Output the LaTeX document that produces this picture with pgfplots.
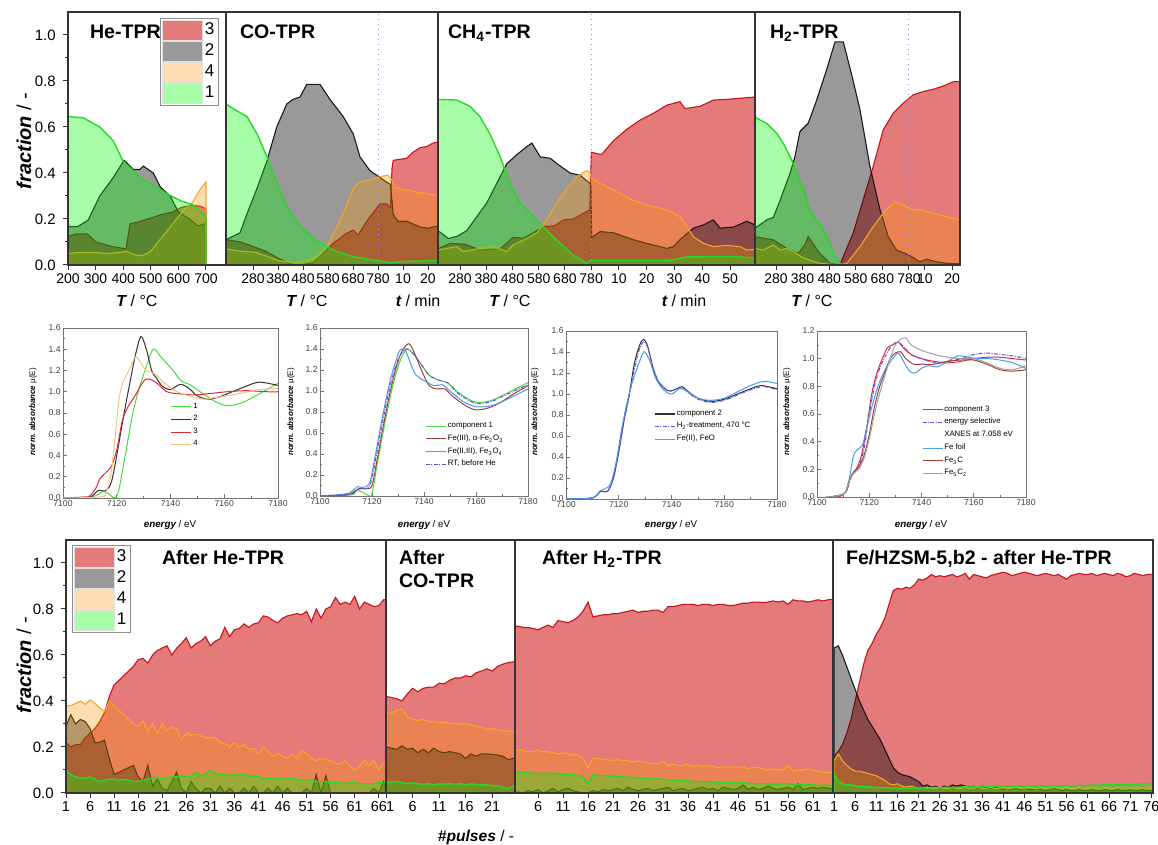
\documentclass[border=0pt]{standalone}
\usepackage{fontspec}
\setmainfont{Liberation Sans}
\usepackage{pgfplots}
\usepackage{pgfplotstable}
\pgfplotsset{compat=1.18}

% component colours: saturated base + own opacity (as the original overlaps suggest)
\definecolor{F3}{RGB}{205,0,0}\definecolor{L3}{RGB}{200,18,28}
\definecolor{F2}{RGB}{0,0,0}\definecolor{L2}{RGB}{25,25,25}
\definecolor{F4}{RGB}{250,150,0}\definecolor{L4}{RGB}{245,165,40}
\definecolor{F1}{RGB}{0,250,0}\definecolor{L1}{RGB}{40,215,40}
% XANES colours
\definecolor{xgreen}{RGB}{70,220,70}
\definecolor{xblack}{RGB}{50,50,50}
\definecolor{xred}{RGB}{225,40,60}
\definecolor{xorange}{RGB}{245,195,125}
\definecolor{xbrown}{RGB}{160,64,58}
\definecolor{xblue}{RGB}{74,155,232}
\definecolor{xviolet}{RGB}{100,80,210}
\definecolor{xgray}{RGB}{160,160,160}

\pgfplotsset{
  /pgf/number format/assume math mode=true,
  /pgf/number format/set thousands separator={},
  frac/.style={
    scale only axis, height=126.5pt, ymin=0, ymax=1.1,
    axis on top,
    axis line style={black!80, line width=0.6pt},
    tick style={black!80, line width=0.5pt},
    tick align=outside, major tick length=2.6pt, minor tick length=1.6pt,
    xtick pos=bottom, ytick pos=left,
    ticklabel style={font=\fontsize{7.5}{8}\selectfont},
    xticklabel style={inner sep=1.5pt, font=\fontsize{7}{8}\selectfont},
    ytick=\empty,
  },
  fracy/.style={
    ytick={0,0.2,0.4,0.6,0.8,1.0}, minor y tick num=1,
    yticklabel style={/pgf/number format/.cd,fixed,fixed zerofill,precision=1},
  },
  fraclegend/.style={
    legend style={at={#1}, anchor=north west, draw=black!45, fill=white,
      line width=0.4pt, font=\fontsize{8.5}{9}\selectfont,
      inner sep=1pt, row sep=0.6pt, nodes={inner sep=0.9pt}},
    legend image code/.code={\path[##1, draw=black!12, line width=0.3pt] (0pt,-4.8pt) rectangle (20pt,4.8pt);},
  },
  s3/.style={draw=L3, fill=F3, fill opacity=0.52, line width=0.55pt},
  s2/.style={draw=L2, fill=F2, fill opacity=0.40, line width=0.55pt},
  s4/.style={draw=L4, fill=F4, fill opacity=0.31, line width=0.55pt},
  s1/.style={draw=L1, fill=F1, fill opacity=0.34, line width=0.7pt},
  vline/.style={forget plot, blue!45, dotted, line width=0.5pt},
  xanes/.style={
    scale only axis, xmin=7100, xmax=7180, ymin=0, ymax=1.6,
    xtick={7100,7120,7140,7160,7180}, minor x tick num=1,
    ytick={0,0.2,...,1.6}, minor y tick num=1,
    axis line style={black!55, line width=0.4pt},
    tick style={black!55, line width=0.3pt},
    major tick length=1.8pt, minor tick length=1pt,
    xtick pos=bottom, ytick pos=left,
    ticklabel style={font=\fontsize{4.3}{5}\selectfont, text=black!75, inner sep=1pt},
    yticklabel style={/pgf/number format/.cd,fixed,fixed zerofill,precision=1},
    legend cell align=left,
    legend image code/.code={\draw[##1, line width=0.6pt] (0pt,0pt) -- (10pt,0pt);},
    every axis plot/.append style={line width=0.5pt, smooth, tension=0.5},
  },
  xleg/.style={legend style={at={#1}, anchor=north west, draw=none, fill=none,
      font=\fontsize{3.9}{4.4}\selectfont, inner sep=0pt, row sep=0.9pt,
      nodes={inner sep=0.6pt}}},
  dd/.style={dash pattern=on 2pt off 0.7pt on 0.5pt off 0.7pt},
}

% ---------- pulse data (after the TPRs) ----------
\pgfplotstableread{
p c3 c2 c4 c1
1 0.22 0.29 0.38 0.10
2 0.20 0.34 0.38 0.08
3 0.21 0.30 0.39 0.07
4 0.21 0.32 0.40 0.065
5 0.24 0.31 0.385 0.065
6 0.26 0.28 0.405 0.07
7 0.28 0.22 0.39 0.06
8 0.31 0.22 0.37 0.05
9 0.35 0.23 0.355 0.055
10 0.42 0.15 0.40 0.06
11 0.47 0.08 0.38 0.06
12 0.49 0.09 0.36 0.055
13 0.51 0.10 0.34 0.06
14 0.53 0.11 0.32 0.055
15 0.55 0.12 0.30 0.05
16 0.58 0.07 0.29 0.05
17 0.585 0.05 0.315 0.055
18 0.565 0.12 0.27 0.06
19 0.60 0.03 0.30 0.065
20 0.62 0.06 0.26 0.07
21 0.63 0.02 0.30 0.06
22 0.64 0.01 0.27 0.065
23 0.60 0.05 0.285 0.07
24 0.63 0.09 0.28 0.07
25 0.65 0.02 0.23 0.075
26 0.675 0.0 0.26 0.07
27 0.63 0.05 0.25 0.07
28 0.65 0.02 0.255 0.09
29 0.66 0.0 0.25 0.075
30 0.68 0.02 0.24 0.08
31 0.64 0.02 0.24 0.10
32 0.66 0.0 0.24 0.085
33 0.67 0.03 0.22 0.08
34 0.72 0.0 0.215 0.08
35 0.68 0.02 0.20 0.075
36 0.71 0.0 0.22 0.08
37 0.715 0.0 0.20 0.075
38 0.735 0.02 0.21 0.085
39 0.72 0.0 0.19 0.07
40 0.735 0.03 0.195 0.075
41 0.74 0.0 0.17 0.07
42 0.77 0.0 0.20 0.065
43 0.765 0.02 0.18 0.065
44 0.75 0.0 0.16 0.06
45 0.74 0.03 0.175 0.065
46 0.76 0.0 0.16 0.06
47 0.77 0.02 0.15 0.06
48 0.775 0.0 0.17 0.065
49 0.78 0.0 0.15 0.06
50 0.775 0.0 0.185 0.055
51 0.79 0.02 0.17 0.06
52 0.745 0.0 0.15 0.055
53 0.80 0.08 0.14 0.05
54 0.76 0.0 0.15 0.05
55 0.80 0.075 0.145 0.05
56 0.81 0.0 0.14 0.045
57 0.85 0.0 0.13 0.045
58 0.82 0.0 0.125 0.045
59 0.83 0.0 0.14 0.04
60 0.82 0.0 0.12 0.045
61 0.855 0.0 0.10 0.045
62 0.80 0.0 0.115 0.04
63 0.83 0.0 0.145 0.04
64 0.82 0.0 0.12 0.04
65 0.81 0.02 0.14 0.04
66 0.815 0.0 0.10 0.045
67 0.84 0.05 0.13 0.045
68 0.84 0.0 0.12 0.05
}\tabBa

\pgfplotstableread{
p c3 c2 c4 c1
1 0.42 0.20 0.35 0.045
2 0.415 0.195 0.345 0.048
3 0.41 0.19 0.36 0.05
4 0.40 0.205 0.365 0.045
5 0.43 0.19 0.33 0.04
6 0.455 0.195 0.32 0.045
7 0.44 0.175 0.315 0.04
8 0.455 0.19 0.32 0.038
9 0.46 0.175 0.31 0.04
10 0.46 0.195 0.31 0.035
11 0.477 0.18 0.305 0.04
12 0.475 0.175 0.31 0.038
13 0.49 0.18 0.30 0.04
14 0.50 0.175 0.305 0.038
15 0.50 0.17 0.30 0.04
16 0.51 0.15 0.30 0.035
17 0.505 0.17 0.295 0.04
18 0.523 0.16 0.29 0.037
19 0.53 0.17 0.285 0.035
20 0.54 0.17 0.275 0.035
21 0.53 0.168 0.28 0.033
22 0.55 0.165 0.275 0.03
23 0.56 0.16 0.27 0.025
24 0.567 0.145 0.27 0.02
25 0.57 0.15 0.265 0.03
26 0.575 0.15 0.265 0.03
}\tabBb

\pgfplotstableread{
p c3 c2 c4 c1
1 0.725 0.0 0.19 0.085
2 0.725 0.005 0.185 0.09
3 0.72 0.0 0.185 0.09
4 0.72 0.01 0.18 0.088
5 0.715 0.005 0.18 0.085
6 0.71 0.015 0.185 0.085
7 0.72 0.0 0.18 0.085
8 0.73 0.01 0.18 0.085
9 0.72 0.02 0.175 0.085
10 0.75 0.005 0.17 0.083
11 0.745 0.015 0.175 0.08
12 0.74 0.02 0.17 0.082
13 0.75 0.01 0.165 0.08
14 0.765 0.005 0.165 0.075
15 0.79 0.0 0.15 0.07
16 0.83 0.0 0.11 0.04
17 0.765 0.01 0.15 0.08
18 0.77 0.005 0.15 0.075
19 0.775 0.015 0.145 0.075
20 0.775 0.01 0.145 0.075
21 0.78 0.015 0.14 0.073
22 0.78 0.02 0.145 0.07
23 0.785 0.01 0.14 0.07
24 0.79 0.025 0.14 0.068
25 0.795 0.015 0.135 0.068
26 0.785 0.01 0.14 0.065
27 0.79 0.015 0.135 0.063
28 0.79 0.02 0.13 0.063
29 0.795 0.01 0.13 0.06
30 0.795 0.015 0.125 0.06
31 0.785 0.02 0.14 0.06
32 0.81 0.025 0.12 0.058
33 0.81 0.01 0.125 0.055
34 0.815 0.015 0.12 0.055
35 0.82 0.02 0.12 0.055
36 0.82 0.01 0.125 0.053
37 0.82 0.015 0.115 0.05
38 0.815 0.02 0.12 0.05
39 0.82 0.025 0.115 0.05
40 0.82 0.015 0.12 0.05
41 0.815 0.02 0.115 0.048
42 0.82 0.01 0.11 0.045
43 0.82 0.025 0.115 0.045
44 0.815 0.02 0.11 0.045
45 0.815 0.015 0.115 0.045
46 0.82 0.02 0.11 0.043
47 0.825 0.035 0.115 0.045
48 0.825 0.015 0.105 0.042
49 0.83 0.025 0.11 0.04
50 0.83 0.015 0.11 0.04
51 0.828 0.02 0.105 0.04
52 0.83 0.03 0.10 0.04
53 0.835 0.02 0.105 0.038
54 0.83 0.015 0.10 0.038
55 0.835 0.02 0.10 0.04
56 0.82 0.025 0.12 0.04
57 0.84 0.015 0.095 0.038
58 0.835 0.04 0.10 0.036
59 0.835 0.015 0.10 0.035
60 0.83 0.02 0.105 0.035
61 0.835 0.025 0.10 0.035
62 0.84 0.02 0.095 0.033
63 0.835 0.025 0.09 0.033
64 0.84 0.02 0.09 0.033
65 0.842 0.02 0.085 0.03
}\tabBc

\pgfplotstableread{
p c3 c2 c4 c1
1 0.16 0.63 0.14 0.085
2 0.18 0.64 0.17 0.05
3 0.21 0.60 0.14 0.04
4 0.26 0.55 0.12 0.035
5 0.32 0.50 0.105 0.035
6 0.40 0.45 0.095 0.03
7 0.48 0.40 0.095 0.03
8 0.56 0.36 0.09 0.028
9 0.62 0.32 0.085 0.028
10 0.65 0.29 0.08 0.025
11 0.69 0.26 0.075 0.025
12 0.72 0.23 0.065 0.025
13 0.76 0.19 0.055 0.022
14 0.82 0.15 0.04 0.022
15 0.88 0.11 0.035 0.02
16 0.89 0.09 0.04 0.022
17 0.885 0.08 0.03 0.02
18 0.895 0.075 0.025 0.022
19 0.89 0.07 0.03 0.02
20 0.905 0.06 0.025 0.022
21 0.93 0.05 0.02 0.02
22 0.925 0.03 0.02 0.022
23 0.935 0.035 0.025 0.02
24 0.95 0.025 0.02 0.022
25 0.94 0.03 0.02 0.025
26 0.945 0.02 0.025 0.022
27 0.94 0.03 0.02 0.025
28 0.945 0.025 0.02 0.025
29 0.95 0.035 0.025 0.022
30 0.94 0.03 0.02 0.025
31 0.945 0.035 0.02 0.025
32 0.955 0.03 0.025 0.028
33 0.93 0.025 0.02 0.025
34 0.95 0.03 0.02 0.028
35 0.945 0.02 0.025 0.025
36 0.94 0.03 0.02 0.028
37 0.935 0.025 0.02 0.028
38 0.945 0.02 0.025 0.03
39 0.95 0.025 0.02 0.028
40 0.955 0.02 0.02 0.03
41 0.96 0.015 0.025 0.03
42 0.955 0.02 0.02 0.032
43 0.945 0.015 0.02 0.03
44 0.95 0.02 0.025 0.03
45 0.955 0.015 0.02 0.032
46 0.96 0.02 0.02 0.03
47 0.955 0.015 0.025 0.032
48 0.95 0.015 0.02 0.03
49 0.945 0.02 0.02 0.032
50 0.95 0.015 0.025 0.03
51 0.955 0.01 0.02 0.03
52 0.95 0.015 0.02 0.032
53 0.945 0.02 0.025 0.03
54 0.95 0.015 0.02 0.032
55 0.94 0.01 0.02 0.03
56 0.93 0.015 0.025 0.032
57 0.945 0.01 0.02 0.03
58 0.95 0.01 0.02 0.032
59 0.955 0.015 0.025 0.033
60 0.95 0.01 0.02 0.032
61 0.95 0.01 0.02 0.033
62 0.955 0.015 0.025 0.035
63 0.945 0.01 0.02 0.033
64 0.95 0.01 0.02 0.035
65 0.955 0.015 0.025 0.035
66 0.95 0.01 0.02 0.035
67 0.945 0.01 0.02 0.036
68 0.955 0.015 0.025 0.035
69 0.95 0.01 0.02 0.036
70 0.94 0.01 0.025 0.038
71 0.945 0.015 0.02 0.036
72 0.955 0.01 0.02 0.038
73 0.95 0.01 0.025 0.038
74 0.945 0.015 0.02 0.04
75 0.95 0.01 0.02 0.04
76 0.95 0.01 0.025 0.042
77 0.95 0.01 0.025 0.042
}\tabBd

\newcommand{\ttl}{\bfseries\fontsize{9.8}{11}\selectfont}
\newcommand{\lbl}{\fontsize{8}{9}\selectfont}

\begin{document}
\begin{tikzpicture}
\useasboundingbox (0,0) rectangle (579pt,422.5pt);

% ================= TOP ROW: TPR =================
% He-TPR
\begin{axis}[frac, fracy, at={(34pt,290pt)}, anchor=south west, width=79pt,
  xmin=200, xmax=772.5, xtick={200,300,400,500,600,700},
  fraclegend={(0.582,0.976)}]
\addplot[s3] coordinates {(200,0.125)(230,0.135)(270,0.135)(300,0.10)(330,0.09)(360,0.08)(410,0.07)(425,0.18)(450,0.185)(490,0.20)(540,0.22)(580,0.23)(610,0.25)(650,0.26)(680,0.255)(700,0.245)} \closedcycle;
\addplot[s2] coordinates {(200,0.20)(203,0.167)(235,0.167)(273,0.195)(315,0.30)(364,0.38)(403,0.455)(437,0.415)(460,0.415)(473,0.43)(509,0.40)(534,0.34)(570,0.30)(600,0.23)(640,0.20)(670,0.17)(700,0.18)} \closedcycle;
\addplot[s4] coordinates {(200,0.05)(240,0.055)(290,0.055)(340,0.05)(390,0.055)(410,0.06)(440,0.045)(470,0.04)(500,0.06)(520,0.09)(560,0.15)(594,0.20)(620,0.24)(650,0.27)(680,0.33)(700,0.36)} \closedcycle;
\addplot[s1] coordinates {(200,0.70)(202,0.645)(255,0.64)(315,0.60)(364,0.54)(400,0.45)(437,0.41)(473,0.37)(522,0.34)(558,0.31)(607,0.28)(655,0.26)(700,0.21)} \closedcycle;
\legend{3,2,4,1}
\end{axis}

% CO-TPR  (x: T in degC up to 780, then 780 + 10*t/min)
\begin{axis}[frac, at={(113pt,290pt)}, anchor=south west, width=106pt,
  xmin=172, xmax=1020, xtick={280,380,480,580,680,780,880,980},
  xticklabels={280,380,480,580,680,780,10,20}]
\addplot[s3] coordinates {(172,0.11)(228,0.10)(270,0.085)(330,0.06)(380,0.03)(428,0.005)(468,0.0)(520,0.01)(548,0.036)(601,0.094)(655,0.138)(681,0.152)(701,0.13)(721,0.167)(748,0.21)(788,0.265)(815,0.265)(830,0.25)(836,0.42)(841,0.455)(895,0.464)(920,0.49)(948,0.51)(975,0.515)(1000,0.53)(1020,0.535)} \closedcycle;
\addplot[s2] coordinates {(172,0.11)(228,0.14)(255,0.22)(295,0.33)(335,0.45)(375,0.60)(415,0.70)(440,0.72)(468,0.73)(495,0.785)(548,0.785)(588,0.72)(641,0.645)(681,0.57)(708,0.47)(748,0.41)(788,0.38)(815,0.36)(830,0.35)(841,0.22)(860,0.19)(895,0.19)(948,0.165)(980,0.16)(1020,0.17)} \closedcycle;
\addplot[s4] coordinates {(172,0.07)(228,0.06)(290,0.055)(330,0.04)(380,0.02)(440,0.01)(500,0.02)(540,0.04)(570,0.07)(600,0.13)(640,0.22)(680,0.33)(705,0.36)(750,0.37)(790,0.385)(820,0.39)(836,0.37)(845,0.34)(875,0.33)(920,0.32)(975,0.31)(1020,0.30)} \closedcycle;
\addplot[s1] coordinates {(172,0.70)(200,0.68)(256,0.645)(296,0.57)(336,0.47)(376,0.355)(416,0.25)(468,0.167)(532,0.11)(600,0.065)(680,0.036)(772,0.02)(828,0.01)(880,0.015)(1020,0.02)} \closedcycle;
\addplot[vline] coordinates {(780,0) (780,1.1)};
\end{axis}

% CH4-TPR  (x: T, then 780 + 10.6*t/min)
\begin{axis}[frac, at={(219pt,290pt)}, anchor=south west, width=158.5pt,
  xmin=196, xmax=1405, xtick={280,380,480,580,680,780,886,992,1098,1204,1310},
  xticklabels={280,380,480,580,680,780,10,20,30,40,50}]
\addplot[s3] coordinates {(196,0.07)(242,0.094)(300,0.09)(356,0.065)(433,0.07)(483,0.12)(522,0.116)(560,0.14)(598,0.167)(640,0.17)(675,0.196)(712,0.20)(751,0.225)(775,0.24)(781,0.49)(820,0.48)(865,0.54)(916,0.59)(967,0.63)(1018,0.66)(1069,0.695)(1119,0.71)(1138,0.68)(1196,0.69)(1246,0.717)(1297,0.72)(1348,0.725)(1405,0.73)} \closedcycle;
\addplot[s2] coordinates {(196,0.15)(235,0.115)(270,0.125)(306,0.15)(344,0.21)(382,0.27)(420,0.355)(458,0.44)(497,0.48)(535,0.515)(554,0.53)(586,0.47)(624,0.464)(662,0.43)(700,0.40)(738,0.39)(770,0.36)(779,0.35)(782,0.12)(814,0.145)(865,0.14)(941,0.11)(992,0.094)(1069,0.072)(1094,0.08)(1119,0.11)(1170,0.16)(1208,0.174)(1246,0.196)(1272,0.16)(1323,0.165)(1374,0.19)(1405,0.174)} \closedcycle;
\addplot[s4] coordinates {(196,0.065)(267,0.08)(293,0.058)(356,0.072)(407,0.08)(458,0.058)(483,0.087)(535,0.116)(573,0.14)(611,0.196)(649,0.27)(687,0.33)(725,0.384)(763,0.41)(776,0.40)(781,0.377)(814,0.355)(865,0.326)(941,0.28)(992,0.26)(1069,0.24)(1119,0.21)(1145,0.167)(1170,0.123)(1208,0.094)(1246,0.08)(1297,0.085)(1348,0.08)(1374,0.065)(1405,0.068)} \closedcycle;
\addplot[s1] coordinates {(196,0.72)(267,0.717)(318,0.69)(356,0.645)(394,0.57)(433,0.47)(471,0.355)(509,0.27)(560,0.21)(611,0.15)(662,0.094)(712,0.043)(763,0.007)(779,0.02)(900,0.02)(1081,0.02)(1145,0.035)(1323,0.037)(1405,0.03)} \closedcycle;
\addplot[vline] coordinates {(780,0) (780,1.1)};
\end{axis}

% H2-TPR
\begin{axis}[frac, at={(377.5pt,290pt)}, anchor=south west, width=102.5pt,
  xmin=201, xmax=972, xtick={280,380,480,580,680,780,840,942},
  xticklabels={280,380,480,580,680,780,10,20}]
\addplot[s3] coordinates {(201,0.123)(270,0.109)(320,0.072)(364,0.05)(390,0.09)(401,0.123)(445,0.05)(483,0.007)(520,0.0)(570,0.138)(608,0.283)(646,0.43)(683,0.587)(721,0.66)(758,0.703)(796,0.74)(834,0.754)(871,0.764)(909,0.778)(947,0.797)(972,0.797)} \closedcycle;
\addplot[s2] coordinates {(201,0.16)(245,0.196)(270,0.207)(295,0.28)(333,0.40)(351,0.47)(370,0.58)(401,0.616)(433,0.717)(470,0.848)(502,0.97)(533,0.97)(564,0.83)(596,0.674)(633,0.43)(671,0.24)(702,0.123)(733,0.065)(771,0.048)(790,0.036)(821,0.014)(846,0.025)(884,0.014)(921,0.007)(972,0.005)} \closedcycle;
\addplot[s4] coordinates {(201,0.072)(232,0.065)(270,0.087)(295,0.065)(320,0.072)(345,0.058)(383,0.03)(445,0.007)(520,0.0)(546,0.007)(596,0.08)(646,0.167)(683,0.225)(727,0.275)(758,0.26)(796,0.24)(821,0.24)(871,0.225)(921,0.21)(972,0.196)} \closedcycle;
\addplot[s1] coordinates {(201,0.667)(204,0.64)(245,0.616)(283,0.572)(307,0.53)(339,0.457)(364,0.384)(389,0.31)(408,0.239)(433,0.196)(458,0.152)(477,0.109)(495,0.05)(521,0.007)(533,0.0)(972,0.0)} \closedcycle;
\addplot[vline] coordinates {(780,0) (780,1.1)};
\end{axis}

\node[anchor=base west, font=\ttl] at (41.5pt,403pt) {He-TPR};
\node[anchor=base west, font=\ttl] at (116.5pt,403pt) {CO-TPR};
\node[anchor=base west, font=\ttl] at (220.5pt,403pt) {CH\textsubscript{4}-TPR};
\node[anchor=base west, font=\ttl] at (381.5pt,403pt) {H\textsubscript{2}-TPR};
\node[rotate=90, font=\fontsize{10}{11}\selectfont] at (12pt,352pt) {{\bfseries\itshape fraction} / -};
\foreach \xx/\tt in {68.5/T, 153.5/T, 255/T, 406/T}
  \node[anchor=base, font=\lbl] at (\xx pt,269pt) {{\bfseries\itshape \tt} / °C};
\foreach \xx in {209, 342}
  \node[anchor=base, font=\lbl] at (\xx pt,269pt) {{\bfseries\itshape t} / min};

% ================= MIDDLE ROW: XANES =================
\begin{axis}[xanes, at={(31.5pt,173.5pt)}, anchor=south west, width=107.5pt, height=85pt,
  xleg={(0.50,0.57)}]
\addplot[xgreen] coordinates {(7100,0)(7108,0.0)(7112,0.02)(7115,0.06)(7117,0.04)(7119,0.0)(7120,0.02)(7121,0.1)(7123.5,0.45)(7126,0.8)(7128,1.0)(7130.5,1.2)(7133.5,1.4)(7136,1.34)(7138.5,1.27)(7141,1.2)(7144,1.1)(7147,1.07)(7151,1.0)(7154,0.95)(7158,0.89)(7162,0.87)(7167,0.9)(7173,0.98)(7180,1.08)};
\addplot[xblack] coordinates {(7100,0)(7108,0.0)(7111,0.02)(7113,0.07)(7116,0.07)(7118,0.15)(7120,0.4)(7122.4,0.75)(7125,1.1)(7127,1.35)(7129,1.52)(7131,1.4)(7133,1.2)(7135,1.12)(7137,1.05)(7140,1.02)(7142,1.05)(7144,1.07)(7147,1.03)(7150,0.96)(7154,0.93)(7158,0.95)(7163,1.0)(7168,1.05)(7173,1.09)(7180,1.06)};
\addplot[xred] coordinates {(7100,0)(7108,0.01)(7110,0.02)(7112.4,0.1)(7113.7,0.18)(7116,0.24)(7118,0.3)(7120,0.45)(7122,0.72)(7124,0.85)(7127,0.97)(7130,1.1)(7132,1.12)(7135,1.08)(7138.6,1.0)(7143.5,0.98)(7148.5,0.97)(7153.5,0.98)(7161,1.0)(7168,1.01)(7176,1.0)(7180,1.0)};
\addplot[xorange] coordinates {(7100,0)(7114,0.01)(7116,0.05)(7118,0.25)(7119.5,0.6)(7121,0.95)(7122.5,1.1)(7124.5,1.2)(7127,1.33)(7129,1.27)(7131,1.2)(7134,1.17)(7137,1.1)(7141,1.02)(7144.5,0.98)(7148.5,0.95)(7152,0.93)(7158,0.95)(7165,0.98)(7173,1.02)(7180,1.03)};
\legend{1,2,3,4}
\end{axis}

\begin{axis}[xanes, at={(160pt,174.5pt)}, anchor=south west, width=104pt, height=84pt,
  xleg={(0.505,0.45)}]
\addplot[xgreen] coordinates {(7100,0)(7112,0.01)(7114,0.05)(7116,0.04)(7119,0.0)(7120,0.02)(7122,0.3)(7125,0.7)(7128,1.05)(7131,1.3)(7133.5,1.4)(7136,1.35)(7139,1.25)(7142,1.15)(7146,1.1)(7149,1.08)(7153,0.99)(7158,0.91)(7161,0.89)(7166,0.91)(7172,0.98)(7180,1.08)};
\addplot[xbrown] coordinates {(7100,0)(7110,0.01)(7113,0.04)(7115,0.07)(7118,0.07)(7120,0.1)(7122,0.35)(7125,0.75)(7128,1.1)(7131,1.35)(7134,1.45)(7136,1.38)(7139,1.2)(7142,1.05)(7145,1.02)(7148,1.02)(7151,0.95)(7156,0.86)(7160,0.82)(7165,0.84)(7170,0.9)(7175,0.98)(7180,1.05)};
\addplot[xblue] coordinates {(7100,0)(7110,0.02)(7113,0.06)(7114.5,0.09)(7116,0.08)(7119,0.12)(7121,0.35)(7124,0.75)(7127,1.1)(7130,1.35)(7131.5,1.4)(7133,1.38)(7135,1.25)(7137,1.15)(7140,1.1)(7144,1.05)(7147,1.06)(7150,1.0)(7155,0.9)(7160,0.85)(7166,0.86)(7172,0.92)(7180,1.02)};
\addplot[xviolet, dd] coordinates {(7100,0)(7112,0.02)(7114,0.06)(7116,0.07)(7119,0.09)(7121,0.3)(7124,0.7)(7127,1.05)(7130,1.3)(7133,1.4)(7136,1.35)(7139,1.25)(7142,1.15)(7146,1.1)(7149,1.08)(7153,0.98)(7158,0.9)(7161,0.88)(7166,0.9)(7172,0.97)(7180,1.06)};
\legend{component 1, {Fe(III), α-Fe\textsubscript{2}O\textsubscript{3}}, {Fe(II,III), Fe\textsubscript{3}O\textsubscript{4}}, {RT, before He}}
\end{axis}

\begin{axis}[xanes, at={(283pt,173pt)}, anchor=south west, width=105.5pt, height=84pt,
  xleg={(0.417,0.54)}]
\addplot[xblack] coordinates {(7100,0)(7108,0.005)(7111,0.02)(7113,0.07)(7114.5,0.07)(7116,0.08)(7118,0.2)(7120,0.45)(7122,0.75)(7124,1.0)(7126,1.3)(7128,1.47)(7129.5,1.52)(7131,1.45)(7133,1.25)(7135,1.12)(7138,1.04)(7140,1.03)(7142,1.05)(7144,1.07)(7146,1.03)(7150,0.96)(7155,0.93)(7160,0.95)(7165,1.0)(7170,1.05)(7174,1.08)(7180,1.05)};
\addplot[xviolet, dd] coordinates {(7100,0)(7108,0.005)(7111,0.02)(7113,0.07)(7114.5,0.07)(7116,0.08)(7118,0.2)(7120,0.45)(7122,0.74)(7124,0.98)(7126,1.25)(7128,1.44)(7129.5,1.5)(7131,1.44)(7133,1.25)(7135,1.12)(7138,1.04)(7140,1.03)(7142,1.05)(7144,1.06)(7146,1.02)(7150,0.95)(7155,0.92)(7160,0.94)(7165,0.99)(7170,1.04)(7175,1.07)(7180,1.04)};
\addplot[xblue] coordinates {(7100,0)(7110,0.01)(7113,0.08)(7115,0.1)(7117,0.15)(7119,0.35)(7121,0.65)(7123,0.9)(7125,1.1)(7127,1.25)(7129,1.38)(7130,1.4)(7132,1.3)(7134,1.15)(7137,1.04)(7140,1.0)(7143,1.05)(7145,1.04)(7150,0.96)(7155,0.94)(7160,0.96)(7165,1.02)(7170,1.08)(7175,1.12)(7180,1.1)};
\legend{component 2, {H\textsubscript{2}-treatment, 470 °C}, {Fe(II), FeO}}
\end{axis}

\begin{axis}[xanes, at={(408.5pt,174pt)}, anchor=south west, width=104.5pt, height=83pt,
  ymax=1.2, ytick={0,0.2,...,1.2}, xleg={(0.50,0.56)}]
\addplot[xred] coordinates {(7100,-0.01)(7108,0.0)(7110,0.02)(7111.5,0.05)(7113,0.15)(7115,0.2)(7117,0.3)(7119,0.5)(7121,0.75)(7123,0.9)(7125,1.0)(7127,1.08)(7129,1.1)(7131,1.12)(7133,1.08)(7136,1.03)(7140,1.0)(7145,0.98)(7150,0.97)(7155,0.98)(7160,1.0)(7165,1.01)(7170,1.01)(7175,1.0)(7180,0.99)};
\addplot[xviolet, dd] coordinates {(7100,-0.01)(7110,0.02)(7113,0.15)(7116,0.22)(7118,0.35)(7120,0.6)(7122,0.8)(7124,0.93)(7127,1.05)(7129,1.1)(7131,1.12)(7133,1.09)(7136,1.03)(7140,1.0)(7145,0.97)(7150,0.98)(7155,1.0)(7160,1.03)(7165,1.04)(7170,1.03)(7175,1.02)(7180,1.0)};
\addlegendimage{empty legend}
\addplot[xblue] coordinates {(7100,-0.01)(7110,0.02)(7112,0.1)(7114,0.3)(7116,0.35)(7117.5,0.38)(7119,0.5)(7121,0.65)(7123,0.78)(7125,0.88)(7127,0.95)(7129,1.0)(7131,1.04)(7132,1.02)(7134,0.95)(7136,0.9)(7138,0.9)(7140,0.93)(7143,0.95)(7146,0.94)(7150,0.98)(7154,1.02)(7158,1.01)(7162,1.0)(7166,1.0)(7170,0.99)(7175,0.97)(7180,0.93)};
\addplot[xbrown] coordinates {(7100,-0.01)(7110,0.02)(7112,0.1)(7114,0.18)(7116,0.22)(7118,0.3)(7120,0.45)(7122,0.65)(7124,0.8)(7126,0.9)(7128,1.0)(7130,1.04)(7132,1.05)(7134,1.0)(7137,0.96)(7140,0.96)(7145,0.96)(7150,0.98)(7155,0.99)(7160,0.99)(7165,0.96)(7170,0.92)(7175,0.91)(7180,0.92)};
\addplot[xgray] coordinates {(7100,-0.01)(7110,0.02)(7112,0.1)(7114,0.17)(7116,0.2)(7118,0.28)(7120,0.42)(7122,0.6)(7124,0.75)(7126,0.88)(7128,1.0)(7130,1.1)(7132,1.14)(7134,1.15)(7136,1.1)(7140,1.06)(7145,1.03)(7150,1.01)(7155,1.0)(7160,1.0)(7165,0.97)(7170,0.93)(7175,0.92)(7180,0.95)};
\legend{component 3, energy selective, XANES at 7.058 eV, Fe foil, Fe\textsubscript{3}C, Fe\textsubscript{5}C\textsubscript{2}}
\end{axis}

\foreach \xx in {85, 212, 335.5, 460.5}
  \node[anchor=base, font=\fontsize{4.9}{5.5}\selectfont] at (\xx pt,158.5pt) {{\bfseries\itshape energy} / eV};
\foreach \xx in {16.5, 145.5, 267.5, 393.5}
  \node[rotate=90, font=\fontsize{4}{4.5}\selectfont] at (\xx pt,216.5pt) {{\bfseries\itshape norm. absorbance} μ(E)};

% ================= BOTTOM ROW: pulses =================
\begin{axis}[frac, fracy, at={(33pt,26pt)}, anchor=south west, width=160pt,
  xmin=1, xmax=67.5, xtick={1,6,...,66}, fraclegend={(0.019,0.98)},
  xticklabel style={font=\fontsize{7.2}{8}\selectfont}]
\addplot[s3] table[x=p,y=c3] {\tabBa} \closedcycle;
\addplot[s2] table[x=p,y=c2] {\tabBa} \closedcycle;
\addplot[s4] table[x=p,y=c4] {\tabBa} \closedcycle;
\addplot[s1] table[x=p,y=c1] {\tabBa} \closedcycle;
\legend{3,2,4,1}
\end{axis}

\begin{axis}[frac, at={(193pt,26pt)}, anchor=south west, width=64.5pt,
  xmin=1, xmax=25.3, xtick={1,6,11,16,21},
  xticklabels={\hphantom{0}1,6,11,16,21},
  xticklabel style={font=\fontsize{7.2}{8}\selectfont}]
\addplot[s3] table[x=p,y=c3] {\tabBb} \closedcycle;
\addplot[s2] table[x=p,y=c2] {\tabBb} \closedcycle;
\addplot[s4] table[x=p,y=c4] {\tabBb} \closedcycle;
\addplot[s1] table[x=p,y=c1] {\tabBb} \closedcycle;
\end{axis}

\begin{axis}[frac, at={(257.5pt,26pt)}, anchor=south west, width=159pt,
  xmin=1.4, xmax=65, xtick={6,11,...,61},
  xticklabel style={font=\fontsize{7.2}{8}\selectfont}]
\addplot[s3] table[x=p,y=c3] {\tabBc} \closedcycle;
\addplot[s2] table[x=p,y=c2] {\tabBc} \closedcycle;
\addplot[s4] table[x=p,y=c4] {\tabBc} \closedcycle;
\addplot[s1] table[x=p,y=c1] {\tabBc} \closedcycle;
\end{axis}

\begin{axis}[frac, at={(416.5pt,26pt)}, anchor=south west, width=160pt,
  xmin=0.76, xmax=76.4, xtick={1,6,...,76},
  xticklabel style={font=\fontsize{7.2}{8}\selectfont}]
\addplot[s3] table[x=p,y=c3] {\tabBd} \closedcycle;
\addplot[s2] table[x=p,y=c2] {\tabBd} \closedcycle;
\addplot[s4] table[x=p,y=c4] {\tabBd} \closedcycle;
\addplot[s1] table[x=p,y=c1] {\tabBd} \closedcycle;
\end{axis}

\node[anchor=base west, font=\ttl] at (77.5pt,140pt) {After He-TPR};
\node[anchor=base west, font=\ttl] at (196pt,140pt) {After};
\node[anchor=base west, font=\ttl] at (196pt,128.5pt) {CO-TPR};
\node[anchor=base west, font=\ttl] at (267.5pt,140pt) {After H\textsubscript{2}-TPR};
\node[anchor=base west, font=\ttl] at (419.5pt,140pt) {Fe/HZSM-5,b2 - after He-TPR};
\node[rotate=90, font=\fontsize{10}{11}\selectfont] at (12pt,90pt) {{\bfseries\itshape fraction} / -};
\node[anchor=base, font=\fontsize{7.8}{9}\selectfont] at (238pt,1.5pt) {{\bfseries\itshape \#pulses} / -};
\end{tikzpicture}
\end{document}
